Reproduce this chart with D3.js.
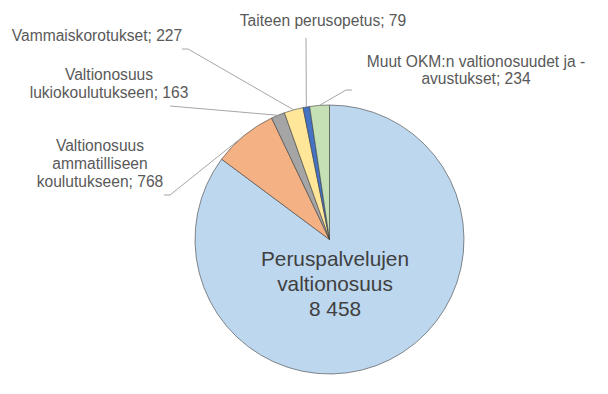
<!DOCTYPE html>
<html>
<head>
<meta charset="utf-8">
<script src="https://cdn.jsdelivr.net/npm/d3@7"></script>
<style>
  body { margin: 0; background: #fff; }
  svg { display: block; font-family: "Liberation Sans", Arial, sans-serif; }
</style>
</head>
<body>
<svg id="chart" width="608" height="394"></svg>
<script>
// data
const categories = [
    "Peruspalvelujen valtionosuus",
    "Valtionosuus ammatilliseen koulutukseen",
    "Valtionosuus lukiokoulutukseen",
    "Vammaiskorotukset",
    "Taiteen perusopetus",
    "Muut OKM:n valtionosuudet ja -avustukset"
];
const values = [8458, 768, 163, 227, 79, 234];
const colors = ["#BDD7EE", "#F4B183", "#A5A5A5", "#FFE699", "#4472C4", "#C5E0B4"];

// label text lines (value appended)
const labelLines = [
    ["Peruspalvelujen", "valtionosuus", "{v}"],
    ["Valtionosuus", "ammatilliseen", "koulutukseen; {v}"],
    ["Valtionosuus", "lukiokoulutukseen; {v}"],
    ["Vammaiskorotukset; {v}"],
    ["Taiteen perusopetus; {v}"],
    ["Muut OKM:n valtionosuudet ja -", "avustukset; {v}"]
];

// label layout: centre x, first baseline y, leader start [x,y], elbow [x,y]
const labelLayout = [
    { x: 335, y: 266, lh: 25, size: 20.8, inside: true },
    { x: 100, y: 151, lh: 18, start: [164, 195], elbow: [170, 195] },
    { x: 109, y: 80, lh: 18, start: [170, 106], elbow: [170, 106] },
    { x: 97, y: 41, lh: 18, start: [182, 49], elbow: [188, 49] },
    { x: 323, y: 26, lh: 18, start: [306, 38], elbow: [306, 38] },
    { x: 476, y: 67, lh: 17, start: [352, 90], elbow: [346, 90] }
];

const cx = 329.5, cy = 239.5, radius = 134.5;
const fmt = v => d3.format(",d")(v).replace(/,/g, " ");

const svg = d3.select("#chart");
const g = svg.append("g").attr("transform", `translate(${cx},${cy})`);

const pie = d3.pie().sort(null).value(d => d.value);
const arcs = pie(values.map((v, i) => ({ value: v, i: i })));
const arc = d3.arc().innerRadius(0).outerRadius(radius);

g.selectAll("path.slice")
    .data(arcs)
    .join("path")
    .attr("class", "slice")
    .attr("d", arc)
    .attr("fill", d => colors[d.data.i])
    .attr("stroke", "#404040")
    .attr("stroke-width", 0.6);

// leader lines
const outerPoint = d => {
    const a = (d.startAngle + d.endAngle) / 2;
    return [cx + radius * Math.sin(a), cy - radius * Math.cos(a)];
};

svg.append("g")
    .selectAll("polyline")
    .data(arcs.filter(d => !labelLayout[d.data.i].inside))
    .join("polyline")
    .attr("fill", "none")
    .attr("stroke", "#A6A6A6")
    .attr("stroke-width", 1)
    .attr("points", d => {
        const L = labelLayout[d.data.i];
        return [L.start, L.elbow, outerPoint(d)].map(p => p.join(",")).join(" ");
    });

// labels
const labels = svg.append("g")
    .attr("text-anchor", "middle")
    .attr("fill", "#595959")
    .selectAll("text")
    .data(arcs)
    .join("text")
    .attr("font-size", d => (labelLayout[d.data.i].size || 15.6) + "px")
    .attr("fill", d => labelLayout[d.data.i].inside ? "#404040" : "#595959");

labels.selectAll("tspan")
    .data(d => labelLines[d.data.i].map((t, k) => ({
        text: t.replace("{v}", fmt(d.data.value)),
        x: labelLayout[d.data.i].x,
        y: labelLayout[d.data.i].y + k * labelLayout[d.data.i].lh
    })))
    .join("tspan")
    .attr("x", t => t.x)
    .attr("y", t => t.y)
    .text(t => t.text);
</script>
</body>
</html>
